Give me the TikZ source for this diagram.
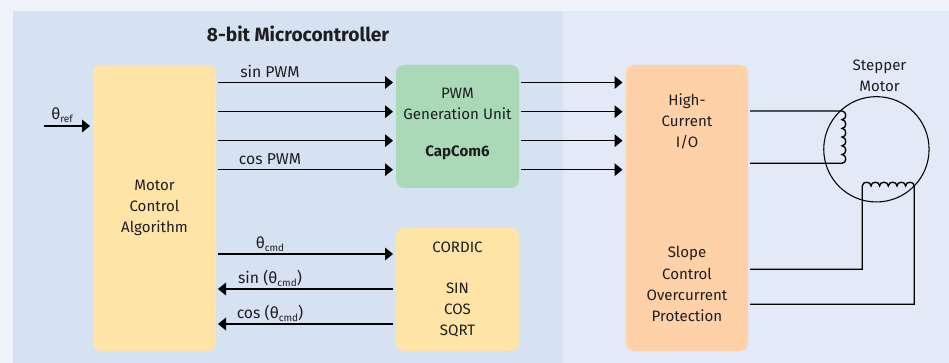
\documentclass[tikz,border=0pt]{standalone}
\usepackage{fontspec}
\setmainfont{Fira Sans}
\usetikzlibrary{arrows.meta}
\definecolor{pageBg}{HTML}{F0F4FA}
\definecolor{leftBg}{HTML}{D6E1F2}
\definecolor{rightBg}{HTML}{E2EAF7}
\definecolor{yel}{HTML}{FFE4A8}
\definecolor{grn}{HTML}{AAD9B8}
\definecolor{org}{HTML}{FFD1A8}
\definecolor{txt}{HTML}{1E1E1E}
\tikzset{
  x=0.75pt,y=-0.75pt,
  box/.style={rounded corners=6pt,draw=none,fill=#1},
  wire/.style={draw=black,line width=1pt},
  sig/.style={wire,-{Triangle[length=6pt,width=9.5pt]}},
  lbl/.style={inner sep=0pt,font=\fontsize{11.3}{15.8}\selectfont,text=txt,align=center},
  conn/.style={inner sep=0pt,font=\fontsize{11.8}{14}\selectfont,text=txt,align=center},
}
\newcommand{\sbs}[1]{\raisebox{-2.2pt}{\fontsize{7.5}{9}\selectfont #1}}
\newcommand{\thet}{θ}
\begin{document}
\begin{tikzpicture}
\useasboundingbox (0,0) rectangle (949,363);
\fill[pageBg] (0,0) rectangle (949,363);
\fill[leftBg] (13,11) rectangle (563,363);
\fill[rightBg] (563,11) rectangle (949,363);
\path[box=yel] (93,65) rectangle (216,351);
\path[box=grn] (396,65) rectangle (519,188);
\path[box=yel] (396,228) rectangle (519,351);
\path[box=org] (626,65) rectangle (748,351);
\node[lbl,font=\fontsize{14.4}{17}\selectfont\bfseries] (title) at (298,34) {8-bit Microcontroller};
\node[lbl] (algo) at (154.5,208) {Motor\\Control\\Algorithm};
\node[lbl] (pwm) at (457.5,103.5) {PWM\\Generation Unit};
\node[lbl,font=\fontsize{11.3}{14}\selectfont\bfseries] (capcom) at (457.5,153) {CapCom6};
\node[lbl] (cordic) at (457.5,247) {CORDIC};
\node[lbl] (sincos) at (457.5,310) {SIN\\COS\\SQRT};
\node[lbl] (hc) at (687,121) {High-\\Current\\I/O};
\node[lbl] (slope) at (687,284) {Slope\\Control\\Overcurrent\\Protection};
\node[lbl] (stepper) at (879.5,76) {Stepper\\Motor};
\node[conn] (lsin) at (270,71) {sin PWM};
\node[conn] (lcos) at (270,159) {cos PWM};
\node[conn] (lref) at (62,115) {\thet\sbs{ref}};
\node[conn] (lcmd) at (270,244) {\thet\sbs{cmd}};
\node[conn] (lsc) at (270,278) {sin (\thet\sbs{cmd})};
\node[conn] (lcc) at (270,313) {cos (\thet\sbs{cmd})};
% input
\coordinate (refin) at (44,126);
\coordinate (refout) at (90,126);
\draw[sig] (refin) -- (refout);
% PWM lines
\foreach \y/\n in {82.5/a,111.7/b,140.7/c,169.7/d}{
  \coordinate (l\n) at (218,\y);
  \coordinate (m\n) at (393,\y);
  \coordinate (r\n) at (521,\y);
  \coordinate (h\n) at (622.5,\y);
  \draw[sig] (l\n) -- (m\n);
  \draw[sig] (r\n) -- (h\n);
}
\coordinate (c1) at (218,254); \coordinate (c2) at (393,254);
\coordinate (c3) at (218,289); \coordinate (c4) at (393,289);
\coordinate (c5) at (218,324); \coordinate (c6) at (393,324);
\draw[sig] (c1) -- (c2);
\draw[sig] (c4) -- (c3);
\draw[sig] (c6) -- (c5);
% motor
\node[circle,draw=black,line width=0.8pt,minimum size=79pt,inner sep=0pt] (motor) at (876.4,149.3) {};
\coordinate (w1) at (750,111);
\coordinate (w2) at (750,163.3);
\coordinate (w3) at (750,269.3);
\coordinate (w4) at (750,304.3);
\draw[wire] (w1) -- (842,111)
 .. controls (847,111) and (847,119.7) .. (842,119.7)
 .. controls (847,119.7) and (847,128.4) .. (842,128.4)
 .. controls (847,128.4) and (847,137.1) .. (842,137.1)
 .. controls (847,137.1) and (847,145.8) .. (842,145.8)
 .. controls (847,145.8) and (847,154.5) .. (842,154.5)
 .. controls (847,154.5) and (847,163.3) .. (842,163.3) -- (w2);
\draw[wire] (w3) -- (862.3,269.3) -- (862.3,186)
 .. controls (862.3,181) and (871,181) .. (871,186)
 .. controls (871,181) and (879.6,181) .. (879.6,186)
 .. controls (879.6,181) and (888.3,181) .. (888.3,186)
 .. controls (888.3,181) and (897,181) .. (897,186)
 .. controls (897,181) and (905.6,181) .. (905.6,186)
 .. controls (905.6,181) and (914.3,181) .. (914.3,186) -- (914.3,304.3) -- (w4);
\end{tikzpicture}
\end{document}
